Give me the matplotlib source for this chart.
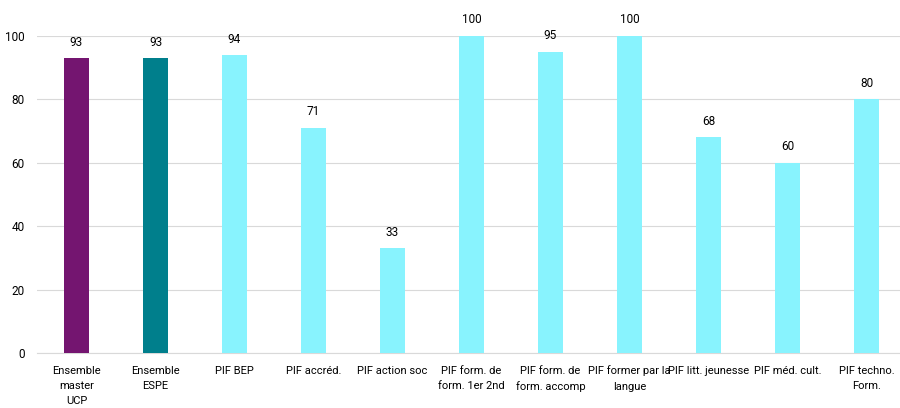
import matplotlib
matplotlib.use("Agg")
import matplotlib.pyplot as plt

categories = ["Ensemble\nmaster\nUCP", "Ensemble\nESPE", "PIF BEP", "PIF accréd.", "PIF action soc",
              "PIF form. de\nform. 1er 2nd", "PIF form. de\nform. accomp", "PIF former par la\nlangue",
              "PIF litt. jeunesse", "PIF méd. cult.", "PIF techno.\nForm."]
values = [93, 93, 94, 71, 33, 100, 95, 100, 68, 60, 80]
colors = ["#741570", "#007F8C"] + ["#88F3FE"] * 9

plt.rcParams['font.family'] = ['Roboto', 'DejaVu Sans']

fig = plt.figure(figsize=(9, 4.08), dpi=100)
ax = fig.add_axes([37/900, 1-353/408, 869/900, (353-36)/408])
x = list(range(len(categories)))
ax.bar(x, values, width=0.32, color=colors, zorder=3)
for xi, v in zip(x, values):
    ax.text(xi, v + 3, str(v), ha='center', va='bottom', fontsize=8.5, clip_on=False, color="#000000")
ax.set_xlim(-0.5, len(categories) - 0.5)
ax.set_ylim(0, 100)
ax.set_yticks([0, 20, 40, 60, 80, 100])
ax.set_xticks(x)
ax.set_xticklabels(categories, fontsize=8, linespacing=1.65, va='top')
ax.tick_params(axis='y', length=0, labelsize=8.5, pad=9)
ax.tick_params(axis='x', length=0, pad=9)
ax.grid(axis='y', color='#D9D9D9', linewidth=0.8, zorder=0)
for s in ['top', 'right', 'left']:
    ax.spines[s].set_visible(False)
ax.spines['bottom'].set_color('#D9D9D9')
ax.spines['bottom'].set_zorder(0)
fig.savefig("out.png", dpi=100)
